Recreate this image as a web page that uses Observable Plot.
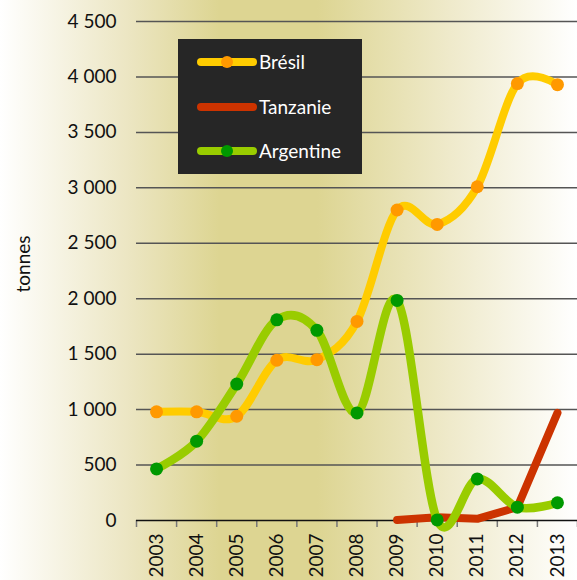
<!DOCTYPE html>
<html>
<head>
<meta charset="utf-8">
<script src="https://cdn.jsdelivr.net/npm/d3@7"></script>
<script src="https://cdn.jsdelivr.net/npm/@observablehq/plot@0.6"></script>
<style>
  html, body { margin: 0; padding: 0; }
  body { width: 577px; height: 580px; overflow: hidden;
    background: linear-gradient(to right, #ffffff 0%, #ece6c3 22%, #ddd592 38%, #ddd592 55%, #efeacb 78%, #ffffff 100%);
    font-family: Lato, "Noto Sans", sans-serif; }
  #wrap { position: relative; width: 577px; height: 580px; }
  #legend { position: absolute; left: 178px; top: 39px; width: 184px; height: 135px; background: #262626; }
  #legend .row { position: absolute; left: 19px; display: flex; align-items: center; color: #fff; font-size: 19px; }
  #ylab { position: absolute; left: 22px; top: 264px; transform: translate(-50%, -50%) rotate(-90deg); font-size: 19px; color: #111; white-space: nowrap; }
</style>
</head>
<body>
<div id="wrap">
  <div id="chart"></div>
  <div id="ylab">tonnes</div>
  <div id="legend"></div>
</div>
<script>
const years = [2003, 2004, 2005, 2006, 2007, 2008, 2009, 2010, 2011, 2012, 2013];
const bresil = [980, 980, 940, 1445, 1450, 1795, 2800, 2670, 3010, 3940, 3930];
const tanzanie = [null, null, null, null, null, null, 5, 30, 15, 120, 970];
const argentine = [465, 715, 1230, 1810, 1715, 970, 1985, 5, 375, 120, 160];
const yTicks = [0, 500, 1000, 1500, 2000, 2500, 3000, 3500, 4000, 4500];
const seriesNames = ["Brésil", "Tanzanie", "Argentine"];

const lineColors = {"Brésil": "#ffcc00", "Tanzanie": "#cc3300", "Argentine": "#99cc00"};
const dotColors = {"Brésil": "#ff9900", "Argentine": "#009900"};

const rows = (vals) => years.map((y, i) => ({year: y, value: vals[i]})).filter(d => d.value != null);
const dB = rows(bresil), dT = rows(tanzanie), dA = rows(argentine);
const bounds = years.map(y => y - 0.5).concat([years[years.length - 1] + 0.5]);
const fmt = v => d3.format(",")(v).replace(/,/g, " ");

const chart = Plot.plot({
  width: 577,
  height: 580,
  marginLeft: 136,
  marginRight: 0,
  marginTop: 21,
  marginBottom: 60,
  style: {background: "transparent", fontFamily: "Lato, 'Noto Sans', sans-serif", fontSize: "19px", color: "#111"},
  x: {type: "linear", domain: [2002.5, 2013.5]},
  y: {domain: [0, 4500]},
  marks: [
    Plot.ruleY(yTicks.filter(v => v > 0), {stroke: "#555", strokeWidth: 1.5}),
    Plot.axisY({ticks: yTicks, tickSize: 0, tickPadding: 20, tickFormat: fmt, label: null, fontSize: 19}),
    Plot.axisX({ticks: bounds, tickSize: 7, tickFormat: () => "", label: null, stroke: "#777", strokeWidth: 1.5}),
    Plot.axisX({ticks: years, tickSize: 0, tickPadding: 13, tickRotate: -90, tickFormat: d => String(d), label: null, fontSize: 19}),
    Plot.ruleY([0], {stroke: "#111", strokeWidth: 1.5}),
    Plot.line(dB, {x: "year", y: "value", stroke: lineColors["Brésil"], strokeWidth: 8, curve: "cardinal"}),
    Plot.line(dT, {x: "year", y: "value", stroke: lineColors["Tanzanie"], strokeWidth: 8, curve: "linear"}),
    Plot.line(dA, {x: "year", y: "value", stroke: lineColors["Argentine"], strokeWidth: 8.5, curve: "cardinal"}),
    Plot.dot(dB, {x: "year", y: "value", fill: dotColors["Brésil"], r: 6.5}),
    Plot.dot(dA, {x: "year", y: "value", fill: dotColors["Argentine"], r: 6.5})
  ]
});
document.getElementById("chart").appendChild(chart);

const legend = document.getElementById("legend");
const tops = [22.5, 67.5, 111.5];
seriesNames.forEach((name, i) => {
  const row = document.createElement("div");
  row.className = "row";
  row.style.top = (tops[i] - 12) + "px";
  row.style.height = "24px";
  const dot = dotColors[name] ? `<circle cx="30" cy="12" r="6" fill="${dotColors[name]}"/>` : "";
  row.innerHTML = `<svg width="61" height="24"><line x1="4" x2="56" y1="12" y2="12" stroke="${lineColors[name]}" stroke-width="8" stroke-linecap="round"/>${dot}</svg><span style="margin-left:1px">${name}</span>`;
  legend.appendChild(row);
});
</script>
</body>
</html>
